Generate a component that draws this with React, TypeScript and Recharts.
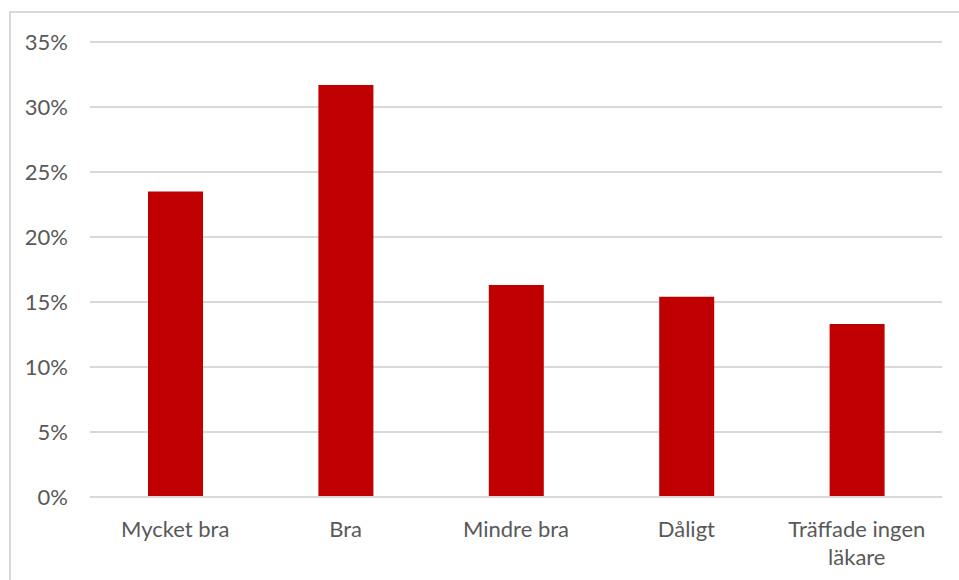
import { BarChart, Bar, XAxis, YAxis, CartesianGrid } from "recharts";

const categories = ["Mycket bra", "Bra", "Mindre bra", "Dåligt", "Träffade ingen läkare"];
const shares = [0.235, 0.317, 0.163, 0.154, 0.133];
const yTicks = [0, 0.05, 0.1, 0.15, 0.2, 0.25, 0.3, 0.35];

const data = categories.map((name, i) => ({ name, value: shares[i] }));

const FONT = "Lato, 'Open Sans', sans-serif";
const TEXT = "#595959";

// wrap long labels the way Excel does (roughly by character count)
function wrap(label: string, max = 15) {
  const lines: string[] = [];
  let cur = "";
  label.split(" ").forEach((w) => {
    const next = cur ? cur + " " + w : w;
    if (next.length > max && cur) {
      lines.push(cur);
      cur = w;
    } else {
      cur = next;
    }
  });
  if (cur) lines.push(cur);
  return lines;
}

function CategoryTick(props: any) {
  const { x, y, payload } = props;
  const lines = wrap(String(payload.value));
  return (
    <text x={x} y={y} textAnchor="middle" fill={TEXT} fontSize={22} fontFamily={FONT}>
      {lines.map((l, i) => (
        <tspan key={i} x={x} dy={i === 0 ? 16 : 28}>
          {l}
        </tspan>
      ))}
    </text>
  );
}

export default function App() {
  return (
    <div style={{ position: "absolute", left: 0, top: 0, width: 959, height: 580, overflow: "hidden", background: "#fff" }}>
      <div
        style={{
          position: "absolute",
          left: 9,
          top: 11,
          width: 1000,
          height: 600,
          borderTop: "2px solid #d9d9d9",
          borderLeft: "2px solid #d9d9d9",
        }}
      />
      <BarChart
        width={959}
        height={580}
        data={data}
        margin={{ top: 42, right: 17, bottom: 0, left: 30 }}
        style={{ position: "absolute", left: 0, top: 0 }}
      >
        <CartesianGrid vertical={false} stroke="#d9d9d9" strokeWidth={2} />
        <XAxis
          dataKey="name"
          height={83}
          tickLine={false}
          axisLine={{ stroke: "#d9d9d9", strokeWidth: 2 }}
          tickSize={0}
          tickMargin={24}
          interval={0}
          tick={<CategoryTick />}
        />
        <YAxis
          width={60}
          domain={[0, 0.35]}
          ticks={yTicks}
          tickFormatter={(v: number) => `${Math.round(v * 100)}%`}
          tickLine={false}
          axisLine={false}
          tickSize={0}
          tickMargin={22}
          tick={{ fill: TEXT, fontSize: 22, fontFamily: FONT }}
        />
        <Bar dataKey="value" fill="#c00000" barSize={55} isAnimationActive={false} />
      </BarChart>
    </div>
  );
}
